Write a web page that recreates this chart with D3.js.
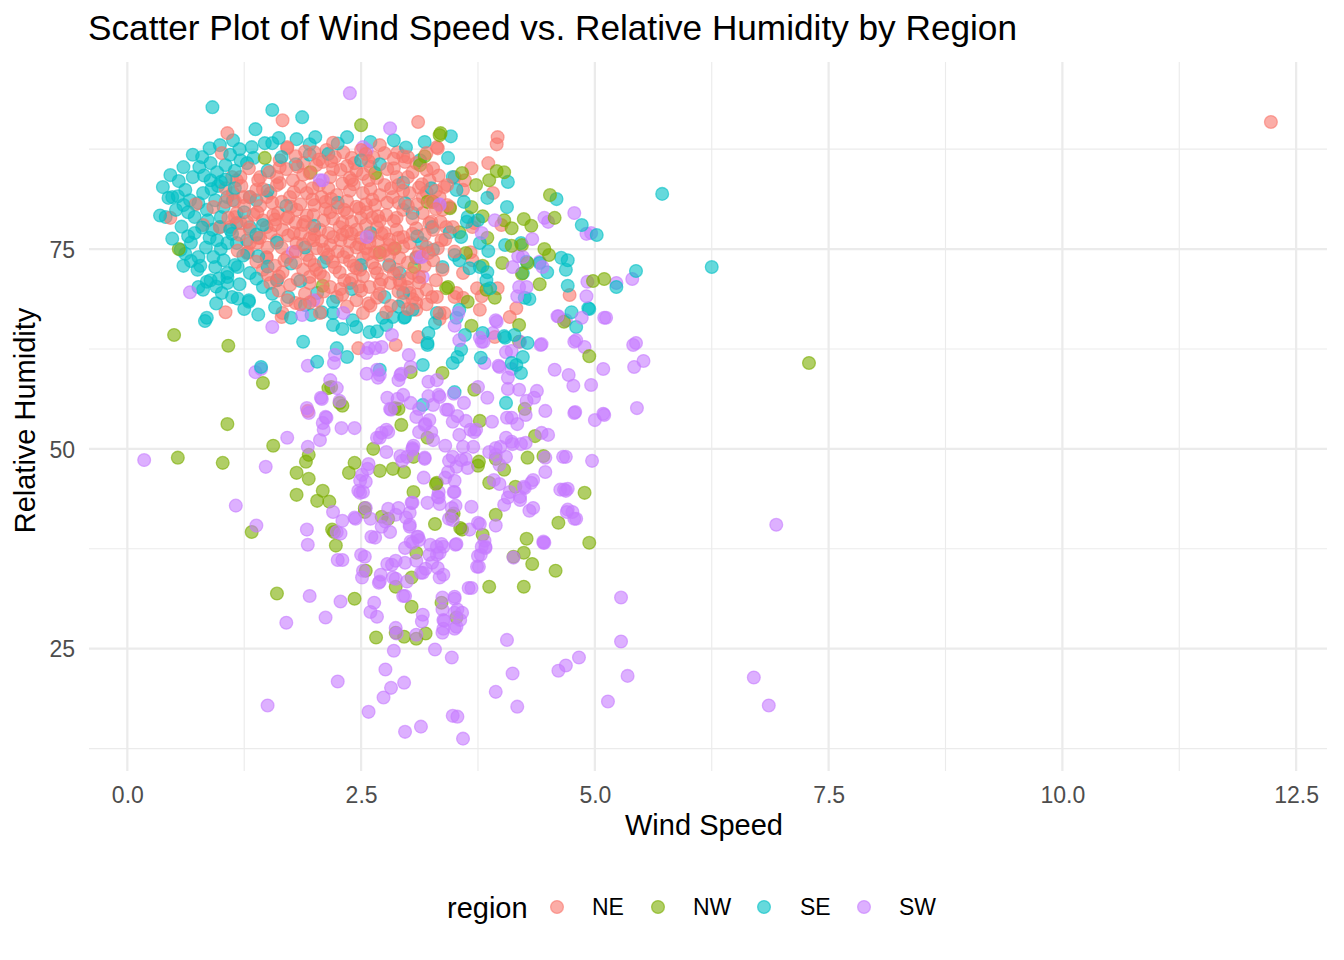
<!DOCTYPE html>
<html>
<head>
<meta charset="utf-8">
<script src="https://cdn.jsdelivr.net/npm/d3@7"></script>
<style>
  body { margin: 0; background: #fff; }
  svg { font-family: "Liberation Sans", Arial, Helvetica, sans-serif; }
</style>
</head>
<body>
<svg id="chart" width="1344" height="960"></svg>
<script>
// categories and colours (ggplot default hue palette)
const regions = ["NE", "NW", "SE", "SW"];
const regionColors = ["#F8766D", "#7CAE00", "#00BFC4", "#C77CFF"];

// axis ticks
const xTicks = [0, 2.5, 5, 7.5, 10, 12.5];
const xTickLabels = ["0.0", "2.5", "5.0", "7.5", "10.0", "12.5"];
const xMinor = [1.25, 3.75, 6.25, 8.75, 11.25];
const yTicks = [25, 50, 75];
const yMinor = [12.5, 37.5, 62.5, 87.5];

// [wind speed, relative humidity]
const seData = [
  [0.91,92.75],[1.55,92.4],[1.87,91.5],[1.37,90.0],[1.13,88.6],[0.99,88.0],[1.33,87.75],[1.47,88.25],[1.55,88.25],[0.80,86.5],
  [0.60,85.25],[0.46,84.25],[0.38,82.75],[0.48,81.5],[0.54,81.6],[0.62,82.4],[0.67,81.1],[0.77,85.25],[0.89,85.75],[0.96,84.6],
  [1.05,85.5],[1.21,86.1],[1.28,85.75],[1.35,86.4],[0.89,83.6],[0.97,82.9],[0.81,82.0],[0.76,80.75],[0.85,79.9],[0.94,81.1],
  [1.03,80.25],[1.07,81.5],[1.13,81.1],[1.31,81.5],[1.38,81.1],[0.41,79.0],[0.86,78.6],[0.91,77.4],[0.99,77.75],[1.17,78.25],
  [1.31,77.75],[0.96,76.1],[1.07,75.75],[1.17,75.75],[1.28,76.1],[0.62,74.4],[0.76,74.0],[0.92,74.0],[1.03,73.6],[1.15,73.0],
  [0.75,72.4],[0.94,72.75],[1.07,72.0],[1.18,72.75],[1.31,72.0],[0.76,70.25],[0.85,70.9],[1.07,70.75],[1.01,69.5],[1.30,68.6],
  [0.83,66.0],[1.45,70.25],[2.35,89.0],[1.81,88.75],[2.01,89.0],[0.44,81.4],[0.57,74.9],[0.89,71.1],[0.81,69.9],[0.85,66.4],
  [1.07,71.5],[1.60,71.1],[1.72,69.0],[2.03,69.5],[2.20,67.0],[2.41,66.1],
  [3.46,89.1],[3.43,86.4],[3.13,86.1],[4.07,83.4],[4.59,81.25],[5.72,81.9],[4.86,78.0],[5.02,76.75],[3.85,81.4],[4.06,80.25],
  [3.48,84.0],[3.52,82.4],[3.64,79.0],[3.86,74.75],[4.04,75.5],[4.21,75.75],[4.64,73.9],[4.71,73.6],[4.69,72.4],[4.49,72.1],
  [4.41,73.25],[4.27,73.4],[4.23,72.0],[4.71,70.4],[4.25,68.9],[4.30,68.75],[5.23,70.25],[5.44,72.25],[4.93,67.6],[4.80,65.25],
  [3.84,71.1],[3.88,70.1],[4.03,64.1],[3.21,63.0],[3.22,64.5],[2.97,66.5],[2.84,66.5],[2.77,65.5],[3.31,67.0],[3.52,66.4],
  [3.55,67.4],[3.50,74.25],[3.55,73.6],[3.66,72.6],[3.77,72.75],[3.85,72.1],[3.77,75.75],[3.63,78.4],[3.75,78.6],[3.57,76.5],
  [3.45,77.1],[3.26,77.75],[3.05,79.5],[2.97,80.75],[3.15,75.75],[3.27,74.9],[3.09,73.9],[2.91,72.0],[3.37,72.75],[2.95,69.5],
  [2.75,69.0],[6.25,72.75],
  [1.43,60.25],[1.30,68.4],[1.88,63.4],[2.03,60.9],[2.24,62.6],[2.35,61.5],[2.20,65.5],[2.30,65.0],[2.45,65.25],[2.59,64.6],
  [2.67,64.7],[2.73,66.4],[2.96,66.4],[3.05,67.4],[2.70,59.9],[3.16,60.5],[3.16,55.5],[3.21,63.25],[1.97,66.75],[2.08,67.1],
  [3.50,57.1],[3.57,62.4],[3.53,61.5],[3.48,60.75],[3.61,64.25],[3.78,61.4],[3.80,64.5],[4.04,63.9],[4.14,64.25],[4.23,61.5],
  [4.16,60.5],[4.21,59.5],[4.05,55.75],[3.29,65.75],[4.11,60.75],[4.28,63.25],[4.75,67.1],[4.94,67.5],
  [1.50,84.8],[1.65,86.5],[1.80,85.6],[1.95,86.8],[2.15,86.9],[2.60,88.4],[2.85,88.6],[1.50,82.3],[1.70,80.4],[1.45,78.0],
  [1.60,75.8],[1.40,74.1],[1.75,73.2],[1.55,69.4],[1.85,71.0],[2.10,73.4],[2.40,70.0],[2.25,80.8],[2.00,77.9],[2.60,77.0],
  [2.80,73.0],[3.10,76.6],[3.25,82.6],[2.95,83.3],[2.70,85.6],[1.90,75.2],[2.50,73.0],[2.20,68.4],[2.90,67.8],[3.60,80.9],
  [0.55,83.5],[0.70,84.0],[0.65,79.6],[0.72,77.0],[0.58,77.8],[0.84,75.2],[1.00,75.0],[1.12,76.9],[1.24,74.2],[0.98,71.3],
  [1.20,70.6],[1.38,71.3],[1.12,69.0],[0.95,68.2],[1.40,66.8],[1.25,67.5],[1.58,67.7],[1.75,66.4],[1.90,68.0],[0.70,86.8],
  [0.88,87.6],[1.10,86.8],[1.20,87.5],[1.00,83.4],[1.15,82.6],[1.25,79.6],[1.38,76.8],[1.50,72.8],[0.60,72.9],[0.68,75.8],
  [0.52,79.9],[0.35,79.2],[0.48,76.3],[1.62,88.9],[1.95,88.1],[2.25,88.2],[2.50,86.1],[2.98,87.7],[3.18,88.4],
  [0.60,80.5],[0.72,79.0],[0.80,77.7],[0.65,76.6],[0.88,76.4],[0.78,72.9],[0.95,70.3],[1.18,68.8],[0.90,82.5],[1.05,83.7],
  [1.15,84.8],[0.82,84.2],[1.00,79.0],[1.10,77.4],[0.68,73.5]
];

const neData = [
  [12.23,90.9],[1.66,91.1],[3.11,90.9],[3.96,89.0],[3.95,88.1],[1.07,89.5],[3.32,87.6],[3.68,85.1],[3.86,85.75],[1.05,67.1],
  [1.65,66.5],[1.80,68.25],[2.47,62.6],[2.87,63.0],[3.11,64.0],[1.93,54.75],[3.93,64.0],[4.09,66.5],[4.16,67.6],[4.73,69.25],
  [3.96,70.1],[3.79,69.1],[3.77,67.4],[3.50,69.0],[3.34,66.25],[3.05,68.75],[3.67,74.6],[3.71,78.25],[3.27,85.1],[3.61,83.6],
  [3.91,82.0],[4.00,78.0],[3.69,77.75],[3.39,82.75],[3.59,82.4],[3.16,81.5],[3.45,80.25],[3.41,77.75],[3.23,78.25],[3.36,76.1],
  [3.69,73.6],[3.59,72.0],[3.74,70.1],[3.52,69.5],[3.59,68.9],[3.39,67.0],[3.26,69.0],[3.09,67.4],[3.02,69.5],[2.91,71.1],
  [3.50,84.0],
  [1.01,87.0],[1.12,84.0],[1.05,82.6],[0.73,80.6],[0.46,78.9],[0.81,78.0],[0.92,80.25],[0.99,77.75],[1.17,83.6],[1.24,81.5],
  [1.15,79.0],[1.21,78.25],[1.31,75.75],[1.29,74.6],[1.40,76.4],[1.49,74.0],[1.60,71.1],[1.42,84.0],[1.49,81.5],[1.63,85.25],
  [1.63,83.25],[1.61,79.5],[1.53,77.0],[1.45,78.6],[1.71,87.75],
  [1.71,87.6],[2.13,87.4],[2.31,87.1],[2.63,86.5],[2.75,87.0],[2.89,87.1],[3.31,87.75],[1.63,86.1],[1.88,85.75],[2.09,85.9],
  [2.43,85.75],[2.97,85.9],[3.09,85.75],[1.21,84.0],[1.40,83.6],[1.60,84.0],[1.77,83.6],[2.17,84.0],[2.38,83.9],[2.67,83.9],
  [2.88,84.0],[3.23,83.6],[3.42,83.0],[1.13,82.0],[1.31,81.5],[1.53,82.0],[1.74,81.5],[1.92,82.0],[2.08,81.5],[2.24,81.75],
  [2.52,82.0],[2.70,81.75],[2.84,81.5],[3.02,82.0],[3.20,82.1],[3.34,81.5],[1.17,79.5],[1.39,79.6],[1.56,79.25],[1.81,79.9],
  [1.99,79.25],[2.17,79.6],[2.35,79.5],[2.56,79.6],[2.77,79.25],[2.95,79.9],[3.16,79.5],[3.37,79.9],[1.10,77.75],[1.31,77.4],
  [1.49,77.75],[1.66,77.4],[1.88,78.0],[2.06,77.4],[2.27,77.75],[2.45,77.4],[2.67,77.75],[2.88,77.4],[3.09,77.6],[3.27,77.4],
  [3.48,77.75],[1.39,75.75],[1.60,76.1],[1.81,75.75],[1.99,76.1],[2.17,75.5],[2.38,75.9],[2.59,75.75],[2.81,75.5],[3.02,75.75],
  [3.20,75.25],[1.28,74.5],[1.49,73.9],[1.71,74.0],[1.92,74.25],[2.13,73.9],[2.31,74.0],[2.52,73.9],[2.70,74.25],[2.91,73.9],
  [3.09,74.0],[3.27,73.6],[1.45,72.4],[1.66,72.1],[1.88,72.4],[2.06,72.0],[2.27,72.1],[2.49,72.4],[2.67,72.0],[2.88,72.4],
  [3.05,72.0],[3.37,72.4],[1.53,70.75],[1.74,70.5],[1.95,70.75],[2.17,70.25],[2.38,70.75],[2.59,70.25],[2.81,70.75],[2.99,70.25],
  [3.20,69.9],[1.71,68.6],[2.03,68.6],[2.24,69.0],[2.45,68.6],[2.67,68.9],[2.95,68.4],[3.09,68.25],[3.31,69.0],[2.06,67.0],
  [2.52,67.0],[2.77,67.1],[1.66,67.0],[3.34,67.0],
  [1.95,84.5],[2.05,83.0],[2.20,85.0],[2.45,84.8],[2.60,85.3],[1.85,82.8],[2.15,82.6],[2.35,81.0],[2.55,80.6],[2.00,80.5],
  [1.75,80.3],[1.55,80.8],[2.25,80.2],[2.65,80.5],[2.90,80.8],[2.10,78.6],[2.30,78.3],[2.50,78.9],[2.70,78.5],[1.90,78.4],
  [1.70,78.8],[2.00,76.8],[2.20,76.5],[2.40,76.9],[2.60,76.6],[2.80,76.2],[1.85,76.9],[2.10,74.9],[2.35,74.6],[2.55,75.1],
  [2.75,74.8],[2.95,75.3],[1.65,75.2],[2.05,86.2],[2.40,86.4],[2.85,86.3],[3.00,84.0],[3.20,84.9],[3.10,80.6],[3.25,78.4],
  [3.40,76.2],[3.50,74.7],[3.00,71.3],[2.40,71.2],[1.95,71.5],[1.35,79.3],[1.25,80.4],[1.45,82.5],[1.15,81.0],[2.30,83.2],
  [2.75,83.0],[2.50,87.4],[1.90,87.2],[2.70,88.0],[2.20,88.3],
  [1.80,86.6],[2.00,87.1],[2.22,86.5],[2.55,86.9],[2.95,86.6],[3.20,87.0],
  [1.30,85.1],[1.52,84.6],[1.70,85.0],[1.88,84.3],[2.28,84.9],[2.52,84.4],[2.78,85.0],[3.05,84.6],[3.33,84.2],
  [1.22,82.9],[1.38,82.4],[1.60,83.0],[1.98,82.6],[2.42,83.1],[2.60,82.5],[2.90,83.0],[3.12,82.7],[3.30,82.3],
  [1.05,80.9],[1.42,80.4],[1.65,80.9],[1.85,80.6],[2.12,80.9],[2.45,80.3],[2.78,80.8],[3.00,80.4],[3.25,80.9],[3.42,80.5],
  [1.08,78.9],[1.28,78.4],[1.58,78.7],[1.80,78.3],[2.20,78.8],[2.40,78.4],[2.62,78.9],[2.85,78.5],[3.05,78.8],[3.35,78.4],
  [1.20,76.8],[1.42,76.4],[1.72,76.7],[1.95,76.3],[2.30,76.8],[2.50,76.4],[2.72,76.9],[2.95,76.5],[3.18,76.8],
  [1.18,74.8],[1.50,75.2],[1.80,74.7],[2.02,75.1],[2.25,74.7],[2.45,75.2],[2.65,74.6],[2.85,75.0],[3.12,74.6],[3.32,75.1],
  [1.38,73.4],[1.58,72.9],[1.80,73.3],[2.00,73.0],[2.20,73.4],[2.42,72.9],[2.62,73.3],[2.80,72.8],[3.00,73.3],[3.18,72.9],
  [1.62,71.6],[1.82,71.2],[2.10,71.5],[2.32,71.1],[2.52,71.6],[2.72,71.2],[3.12,71.5],[3.30,71.1],
  [1.62,69.8],[1.90,69.4],[2.10,69.7],[2.30,69.3],[2.50,69.8],[2.70,69.4],[2.90,69.7],[3.10,69.3],
  [1.85,68.1],[2.35,67.8],[2.58,68.2],[2.82,67.9],[3.20,68.1],
  [1.82,85.3],[2.02,85.5],[2.18,86.0],[2.35,85.4],[2.58,86.0],[1.78,82.1],[1.98,81.2],[2.18,81.3],[2.38,82.3],[2.62,81.2],
  [2.82,82.6],[1.72,79.0],[1.92,79.2],[2.12,80.0],[2.32,79.9],[2.48,80.1],[2.68,79.1],[2.88,78.9],[1.78,77.0],[1.98,77.6],
  [2.15,77.0],[2.35,77.2],[2.55,78.0],[2.75,77.0],[1.88,75.6],[2.08,76.0],[2.28,76.1],[2.48,75.6],[2.68,75.9],[2.90,76.4],
  [1.95,73.6],[2.15,74.3],[2.38,73.5],[2.58,74.4],[2.80,74.2],[2.02,72.4],[2.22,72.7],[2.45,72.6],[2.65,72.6],[2.85,71.9],
  [2.28,70.0],[2.48,70.3],[2.70,70.6],[2.92,70.6],[3.12,70.8],[2.60,67.9],[3.00,67.5],[1.95,68.3],[2.40,83.6],[2.58,83.6],
  [2.85,85.1],[3.00,86.5],[1.58,78.0],[1.68,73.6],[1.50,71.8],[2.95,82.3],[3.15,83.1],[3.30,80.0],[3.05,76.9],[3.22,74.5]
];

const nwData = [
  [7.29,60.75],[0.50,64.25],[1.08,62.9],[1.07,53.1],[1.02,48.25],[0.54,48.9],[1.33,39.6],[1.45,58.25],[1.56,50.4],[1.60,31.9],
  [1.81,47.0],[1.81,44.25],[1.94,49.25],[1.91,48.4],[1.94,46.25],[2.03,43.5],[2.09,44.75],[2.16,43.4],[2.19,39.9],[2.23,37.9],
  [2.21,39.6],[2.15,57.6],[2.18,57.75],[2.27,55.75],[2.30,55.4],[2.37,47.0],[2.43,48.25],[2.43,31.25],[2.55,34.75],[2.54,42.6],
  [2.54,42.1],[2.63,50.0],[2.70,47.25],[2.72,41.5],[2.79,41.25],[2.84,47.5],[2.86,55.1],[2.90,55.0],[2.93,53.0],[2.96,47.1],
  [2.66,26.4],[2.87,27.0],[2.87,32.75],[2.96,26.5],[3.04,30.25],[3.04,33.9],[3.06,44.6],[3.09,37.0],[3.06,49.0],[3.03,59.6],
  [3.09,26.25],[3.19,26.9],[3.21,51.4],[3.29,40.6],[3.31,45.75],[3.36,30.75],[3.37,59.5],[3.49,41.9],[3.52,28.9],[3.58,39.9],
  [3.71,57.4],[3.77,53.5],[3.75,47.9],[3.80,39.25],[3.87,32.75],[3.87,45.75],[3.94,41.75],[3.94,48.75],[4.03,47.4],[4.13,36.5],
  [4.15,45.25],[4.24,37.0],[4.24,32.75],[4.25,55.0],[4.27,38.75],[4.28,48.9],[4.33,35.6],[4.36,51.6],[4.45,49.1],[4.58,34.75],
  [4.61,40.75],[4.89,44.5],[4.94,38.25],[4.94,61.6],[4.67,65.9],[4.19,65.5],[4.19,63.4],[3.93,68.9],[3.84,69.9],[3.80,72.9],
  [3.62,74.5],[3.41,70.1],[3.68,65.4],[3.64,68.4],[3.07,72.75],[4.98,71.0],[5.10,71.25],[4.52,81.75],[4.57,78.9],[4.46,75.0],
  [4.51,74.25],[4.01,73.25],[4.28,73.25],[4.22,71.9],[4.41,70.6],[3.35,89.5],[3.18,86.6],[3.13,85.5],[3.58,84.5],[3.73,83.0],
  [3.87,83.6],[3.95,84.75],[4.03,84.6],[3.68,80.25],[3.80,79.1],[4.03,78.6],[4.11,77.6],[4.24,78.75],[4.32,77.9],[3.55,77.1],
  [3.85,76.4],[4.11,75.4],[4.22,75.5],[3.21,80.9],[2.70,74.6],[1.47,86.4],[1.96,84.6],[0.55,75.0],[2.09,70.4],[2.65,84.5],
  [2.50,90.5],[3.43,70.25],[3.27,80.9],[3.45,80.1],[3.34,89.25],[2.86,75.1],[3.76,48.4],[3.56,40.1],[3.47,41.6],[3.30,45.6]
];

const swData = [
  [2.38,94.5],[0.18,48.6],[6.94,40.5],[6.70,21.4],[6.86,17.9],[1.50,17.9],[5.28,31.4],[5.28,25.9],[5.35,21.6],[5.14,18.4],
  [4.83,23.9],[4.69,22.9],[4.61,22.25],[4.06,26.1],[4.12,21.9],[4.17,17.75],[3.94,19.6],[3.59,13.75],[3.48,16.6],[3.53,16.5],
  [3.14,15.25],[2.97,14.6],[2.96,20.75],[2.82,20.1],[2.74,18.9],[2.58,17.1],[2.76,22.4],[2.25,20.9],[1.70,28.25],[1.95,31.6],
  [2.12,28.9],[2.28,30.9],[1.16,42.9],[1.38,40.4],[1.48,47.75],[1.71,51.4],[1.92,55.1],[1.93,50.25],[1.92,39.9],[1.93,38.0],
  [1.37,59.6],[1.55,65.25],[1.43,60.0],[2.06,51.1],[2.09,53.25],[2.12,54.0],[2.07,56.4],[1.93,60.4],[2.17,58.6],
  [4.78,79.5],[4.96,77.0],[4.91,76.9],[4.50,78.4],[4.46,78.9],[4.41,73.4],[4.18,74.1],[5.23,70.75],[5.40,71.25],[4.92,70.9],
  [5.10,66.4],[5.41,63.0],[5.52,61.0],[5.42,60.25],[5.09,60.0],[4.89,62.75],[4.61,66.6],[4.69,66.1],[4.78,63.4],[4.96,58.0],
  [4.77,57.9],[4.72,59.25],[4.57,59.9],[4.42,63.0],[5.09,54.4],[5.00,53.6],[4.78,54.5],[5.45,55.1],[4.66,49.0],[4.97,48.5],
  [4.67,44.9],[4.71,45.0],[4.71,42.4],[4.76,42.1],[4.78,41.25],[4.47,47.1],[4.47,48.9],[4.45,38.25],[4.34,46.1],[4.30,42.25],
  [4.25,45.1],[4.20,44.0],[4.03,43.0],[4.07,43.9],[4.35,56.4],[4.27,56.0],[4.19,57.4],[4.11,53.9],[4.05,51.4],[4.21,50.6],
  [4.07,58.9],[4.11,60.0],[4.11,62.25],[4.20,63.4],[4.05,62.1],[3.91,64.5],[3.95,65.9],[3.81,63.4],[3.82,60.75],[3.98,60.25],
  [3.75,57.75],[3.85,56.4],[3.71,52.1],[3.67,52.4],[3.55,51.75],[3.40,50.4],[3.44,48.5],[3.52,47.75],[3.40,46.4],[3.33,44.6],
  [3.33,43.9],[3.49,44.6],[3.51,42.9],[3.68,42.75],[3.62,48.75],[3.87,49.6],[3.94,49.25],[3.98,48.0],[3.99,50.25],[4.11,50.9],
  [3.66,39.9],[3.75,40.75],[3.75,36.6],[3.79,37.75],[3.82,38.5],[3.74,35.25],[3.65,32.6],[3.50,31.5],[3.50,29.5],[3.53,29.9],
  [3.52,27.75],[3.38,27.5],[3.39,28.5],[3.47,23.9],[3.29,24.9],[3.37,31.4],[3.34,33.9],[3.32,35.1],[3.31,36.75],[3.38,37.75],
  [3.44,41.25],[3.48,41.1],[3.47,42.6],[3.34,43.1],[3.21,43.25],[3.17,46.4],[3.18,48.9],[3.06,50.4],[3.12,52.1],[3.25,52.1],
  [3.23,53.6],[3.12,55.0],[3.41,54.9],[3.49,56.9],[3.53,54.1],[3.62,53.5],[3.70,50.25],[3.33,56.75],[3.22,58.4],[3.31,58.6],
  [3.03,55.75],[2.89,56.25],[2.82,54.9],[2.79,52.1],[2.78,56.4],[2.90,58.6],[2.93,59.4],[2.72,62.75],[2.83,64.25],[3.01,61.75],
  [3.03,60.25],[2.70,59.25],[2.67,59.9],[2.58,62.6],[2.67,51.4],[2.72,52.0],[2.77,52.4],[2.58,48.1],[2.57,47.5],[2.51,46.75],
  [2.49,46.0],[2.47,44.75],[2.52,44.6],[2.44,41.25],[2.55,42.6],[2.60,41.25],[2.72,40.25],[2.81,39.6],[2.65,38.9],[2.76,40.9],
  [2.87,41.75],[2.98,41.4],[3.02,40.25],[3.03,38.4],[3.10,39.0],[2.97,37.6],[2.87,36.0],[2.78,35.6],[2.84,33.9],[2.71,34.25],
  [2.70,33.4],[2.99,33.4],[2.97,31.6],[3.09,36.0],[3.14,34.5],[3.19,35.0],[3.24,38.0],[3.12,38.6],[2.50,36.75],[2.54,36.5],
  [2.51,33.9],[2.52,34.75],[2.25,36.1],[2.24,39.6],[2.30,41.0],[2.28,39.4],[2.92,49.1],[2.94,48.5],
  [2.81,90.1],[2.56,87.4],[2.52,87.75],[3.54,67.0],[3.50,65.4],[3.77,63.9],[3.55,63.6],[3.34,80.6],[3.13,74.0],[3.16,71.5],
  [5.44,63.25],[4.33,76.25],[3.79,77.0],[3.93,78.6],[4.12,72.75],[4.23,74.0],[4.44,72.75],[4.19,70.25],[4.27,70.25],[4.17,69.1],
  [4.91,69.1],[4.60,66.6],[4.86,66.4],[5.12,66.4],[4.80,63.6],[4.43,63.1],[3.94,66.1],
  [0.67,69.6],[1.99,68.6],[1.87,66.75],[2.06,83.6],[1.77,74.6],[2.21,60.75],[2.22,61.75],[2.56,62.0],[2.65,62.6],[2.56,59.4],
  [2.68,58.9],[2.92,59.25],[2.24,57.6],[2.08,56.25],[2.27,56.0],[2.13,53.9],[2.10,52.4],[2.29,52.6],[2.43,52.6],[1.94,54.5],
  [2.95,56.75],[2.81,55.0],[2.70,51.4],[2.77,49.6],[3.09,54.0],[3.18,53.0],[3.05,50.1],[3.18,48.75],[2.55,45.9],[2.49,44.5],
  [2.20,42.1],[2.43,41.4],[2.61,39.0],[2.79,42.5],[2.90,42.6],[3.04,43.25],[3.02,40.5],
  [2.30,36.1],[2.83,35.5],[2.97,35.75],[2.69,33.25],[2.87,33.75],[3.16,34.5],[3.26,35.75],[3.23,36.75],[3.34,37.0],[3.36,38.1],
  [3.51,38.0],[3.05,38.25],[3.83,37.75],[3.78,36.75],[3.76,35.25],[4.46,38.25],[4.13,36.4],[3.38,34.25],[3.68,32.6],[3.50,31.25],
  [3.37,29.9],[3.38,28.6],[3.16,29.25],[3.15,28.4],[2.95,31.6],[2.64,30.75],[2.60,29.6],[2.67,29.0],[2.87,27.6],[2.88,26.9],
  [3.09,26.75],[3.37,27.0],[3.50,27.5],[3.58,29.5],[3.56,28.6],[2.85,24.75],
  [3.79,63.4],[3.97,60.4],[4.07,57.5],[3.60,55.75],[3.43,54.9],[3.48,53.4],[3.27,55.5],[3.22,56.6],[3.34,56.5],[3.19,53.1],
  [4.38,57.25],[4.47,54.75],[4.26,54.25],[4.06,53.9],[4.17,53.1],[3.90,53.4],[3.73,52.4],[4.79,54.6],[5.10,54.25],[4.50,51.75],
  [4.43,52.0],[4.26,50.75],[4.12,50.6],[3.94,50.1],[4.05,49.0],[3.59,50.25],[3.48,49.0],[3.57,48.6],[3.64,47.6],[3.27,51.1],
  [3.05,49.9],[2.99,49.0],[3.43,47.1],[3.50,46.0],[3.50,44.6],[3.32,44.0],[3.05,43.25],[3.02,42.0],[3.11,39.0],[3.31,37.75],
  [3.52,38.1],[3.77,40.6],[3.94,40.4],[3.83,37.6],[3.92,46.1],[3.98,45.6],[4.09,44.6],[4.20,43.6],[4.32,45.75],[4.24,45.25],
  [4.34,42.6],[4.63,44.9],[4.69,44.75],[4.70,42.1],[4.80,41.25],[4.45,38.4],[4.69,49.0],
  [2.09,83.6],[3.15,74.0],[3.34,80.5],[2.31,67.0],[2.56,76.5]
];

const seriesData = [neData, nwData, seData, swData];

const panel = { left: 89, right: 1327, top: 62, bottom: 771 };

const x = d3.scaleLinear().domain([-0.41, 12.83]).range([panel.left, panel.right]);
const y = d3.scaleLinear().domain([9.7, 98.4]).range([panel.bottom, panel.top]);
const color = d3.scaleOrdinal().domain(regions).range(regionColors);

const svg = d3.select("#chart");

// gridlines
const grid = svg.append("g");
grid.selectAll(".xminor").data(xMinor).join("line")
  .attr("x1", d => x(d)).attr("x2", d => x(d))
  .attr("y1", panel.top).attr("y2", panel.bottom)
  .attr("stroke", "#EBEBEB").attr("stroke-width", 1.1);
grid.selectAll(".yminor").data(yMinor).join("line")
  .attr("x1", panel.left).attr("x2", panel.right)
  .attr("y1", d => y(d)).attr("y2", d => y(d))
  .attr("stroke", "#EBEBEB").attr("stroke-width", 1.1);
grid.selectAll(".xmajor").data(xTicks).join("line")
  .attr("x1", d => x(d)).attr("x2", d => x(d))
  .attr("y1", panel.top).attr("y2", panel.bottom)
  .attr("stroke", "#EBEBEB").attr("stroke-width", 2.2);
grid.selectAll(".ymajor").data(yTicks).join("line")
  .attr("x1", panel.left).attr("x2", panel.right)
  .attr("y1", d => y(d)).attr("y2", d => y(d))
  .attr("stroke", "#EBEBEB").attr("stroke-width", 2.2);

// axes (labels only, theme_minimal has no axis lines)
const xAxis = d3.axisBottom(x).tickValues(xTicks).tickFormat((d, i) => xTickLabels[i]).tickSize(0).tickPadding(0);
const gx = svg.append("g").attr("transform", `translate(0,${panel.bottom})`).call(xAxis);
gx.select(".domain").remove();
gx.selectAll("text").attr("y", 32).attr("dy", 0)
  .attr("font-size", 23).attr("fill", "#4D4D4D")
  .attr("font-family", "Liberation Sans, Arial, sans-serif");

const yAxis = d3.axisLeft(y).tickValues(yTicks).tickFormat(d3.format("d")).tickSize(0).tickPadding(0);
const gy = svg.append("g").attr("transform", `translate(${panel.left - 14},0)`).call(yAxis);
gy.select(".domain").remove();
gy.selectAll("text").attr("x", 0).attr("dy", "0.36em")
  .attr("font-size", 23).attr("fill", "#4D4D4D")
  .attr("font-family", "Liberation Sans, Arial, sans-serif");

// points, interleaved so colours overlap like the original row order
const points = [];
const maxLen = d3.max(seriesData, s => s.length);
for (let i = 0; i < maxLen; i++) {
  [2, 0, 3, 1].forEach(r => {
    if (i < seriesData[r].length) {
      points.push({ region: regions[r], wind: seriesData[r][i][0], rh: seriesData[r][i][1] });
    }
  });
}

svg.append("g").selectAll("circle").data(points).join("circle")
  .attr("cx", d => x(d.wind))
  .attr("cy", d => y(d.rh))
  .attr("r", 6.4)
  .attr("fill", d => color(d.region))
  .attr("fill-opacity", 0.6)
  .attr("stroke", d => color(d.region))
  .attr("stroke-opacity", 0.6)
  .attr("stroke-width", 1.3);

// title and axis titles
svg.append("text").attr("x", 88).attr("y", 40)
  .attr("font-size", 35.2).attr("fill", "#000")
  .text("Scatter Plot of Wind Speed vs. Relative Humidity by Region");

svg.append("text").attr("x", 704).attr("y", 835)
  .attr("text-anchor", "middle").attr("font-size", 29).attr("fill", "#000")
  .text("Wind Speed");

svg.append("text")
  .attr("transform", `translate(35,${(panel.top + panel.bottom) / 2 + 4}) rotate(-90)`)
  .attr("text-anchor", "middle").attr("font-size", 29).attr("fill", "#000")
  .text("Relative Humidity");

// legend
const legend = svg.append("g");
legend.append("text").attr("x", 447).attr("y", 918)
  .attr("font-size", 29).attr("fill", "#000").text("region");
const keyX = [557, 658, 764, 864];
const labelX = [592, 693, 800, 899];
regions.forEach((r, i) => {
  legend.append("circle").attr("cx", keyX[i]).attr("cy", 907).attr("r", 6.4)
    .attr("fill", color(r)).attr("fill-opacity", 0.6)
    .attr("stroke", color(r)).attr("stroke-opacity", 0.6).attr("stroke-width", 1.3);
  legend.append("text").attr("x", labelX[i]).attr("y", 915)
    .attr("font-size", 23).attr("fill", "#000").text(r);
});
</script>
</body>
</html>
